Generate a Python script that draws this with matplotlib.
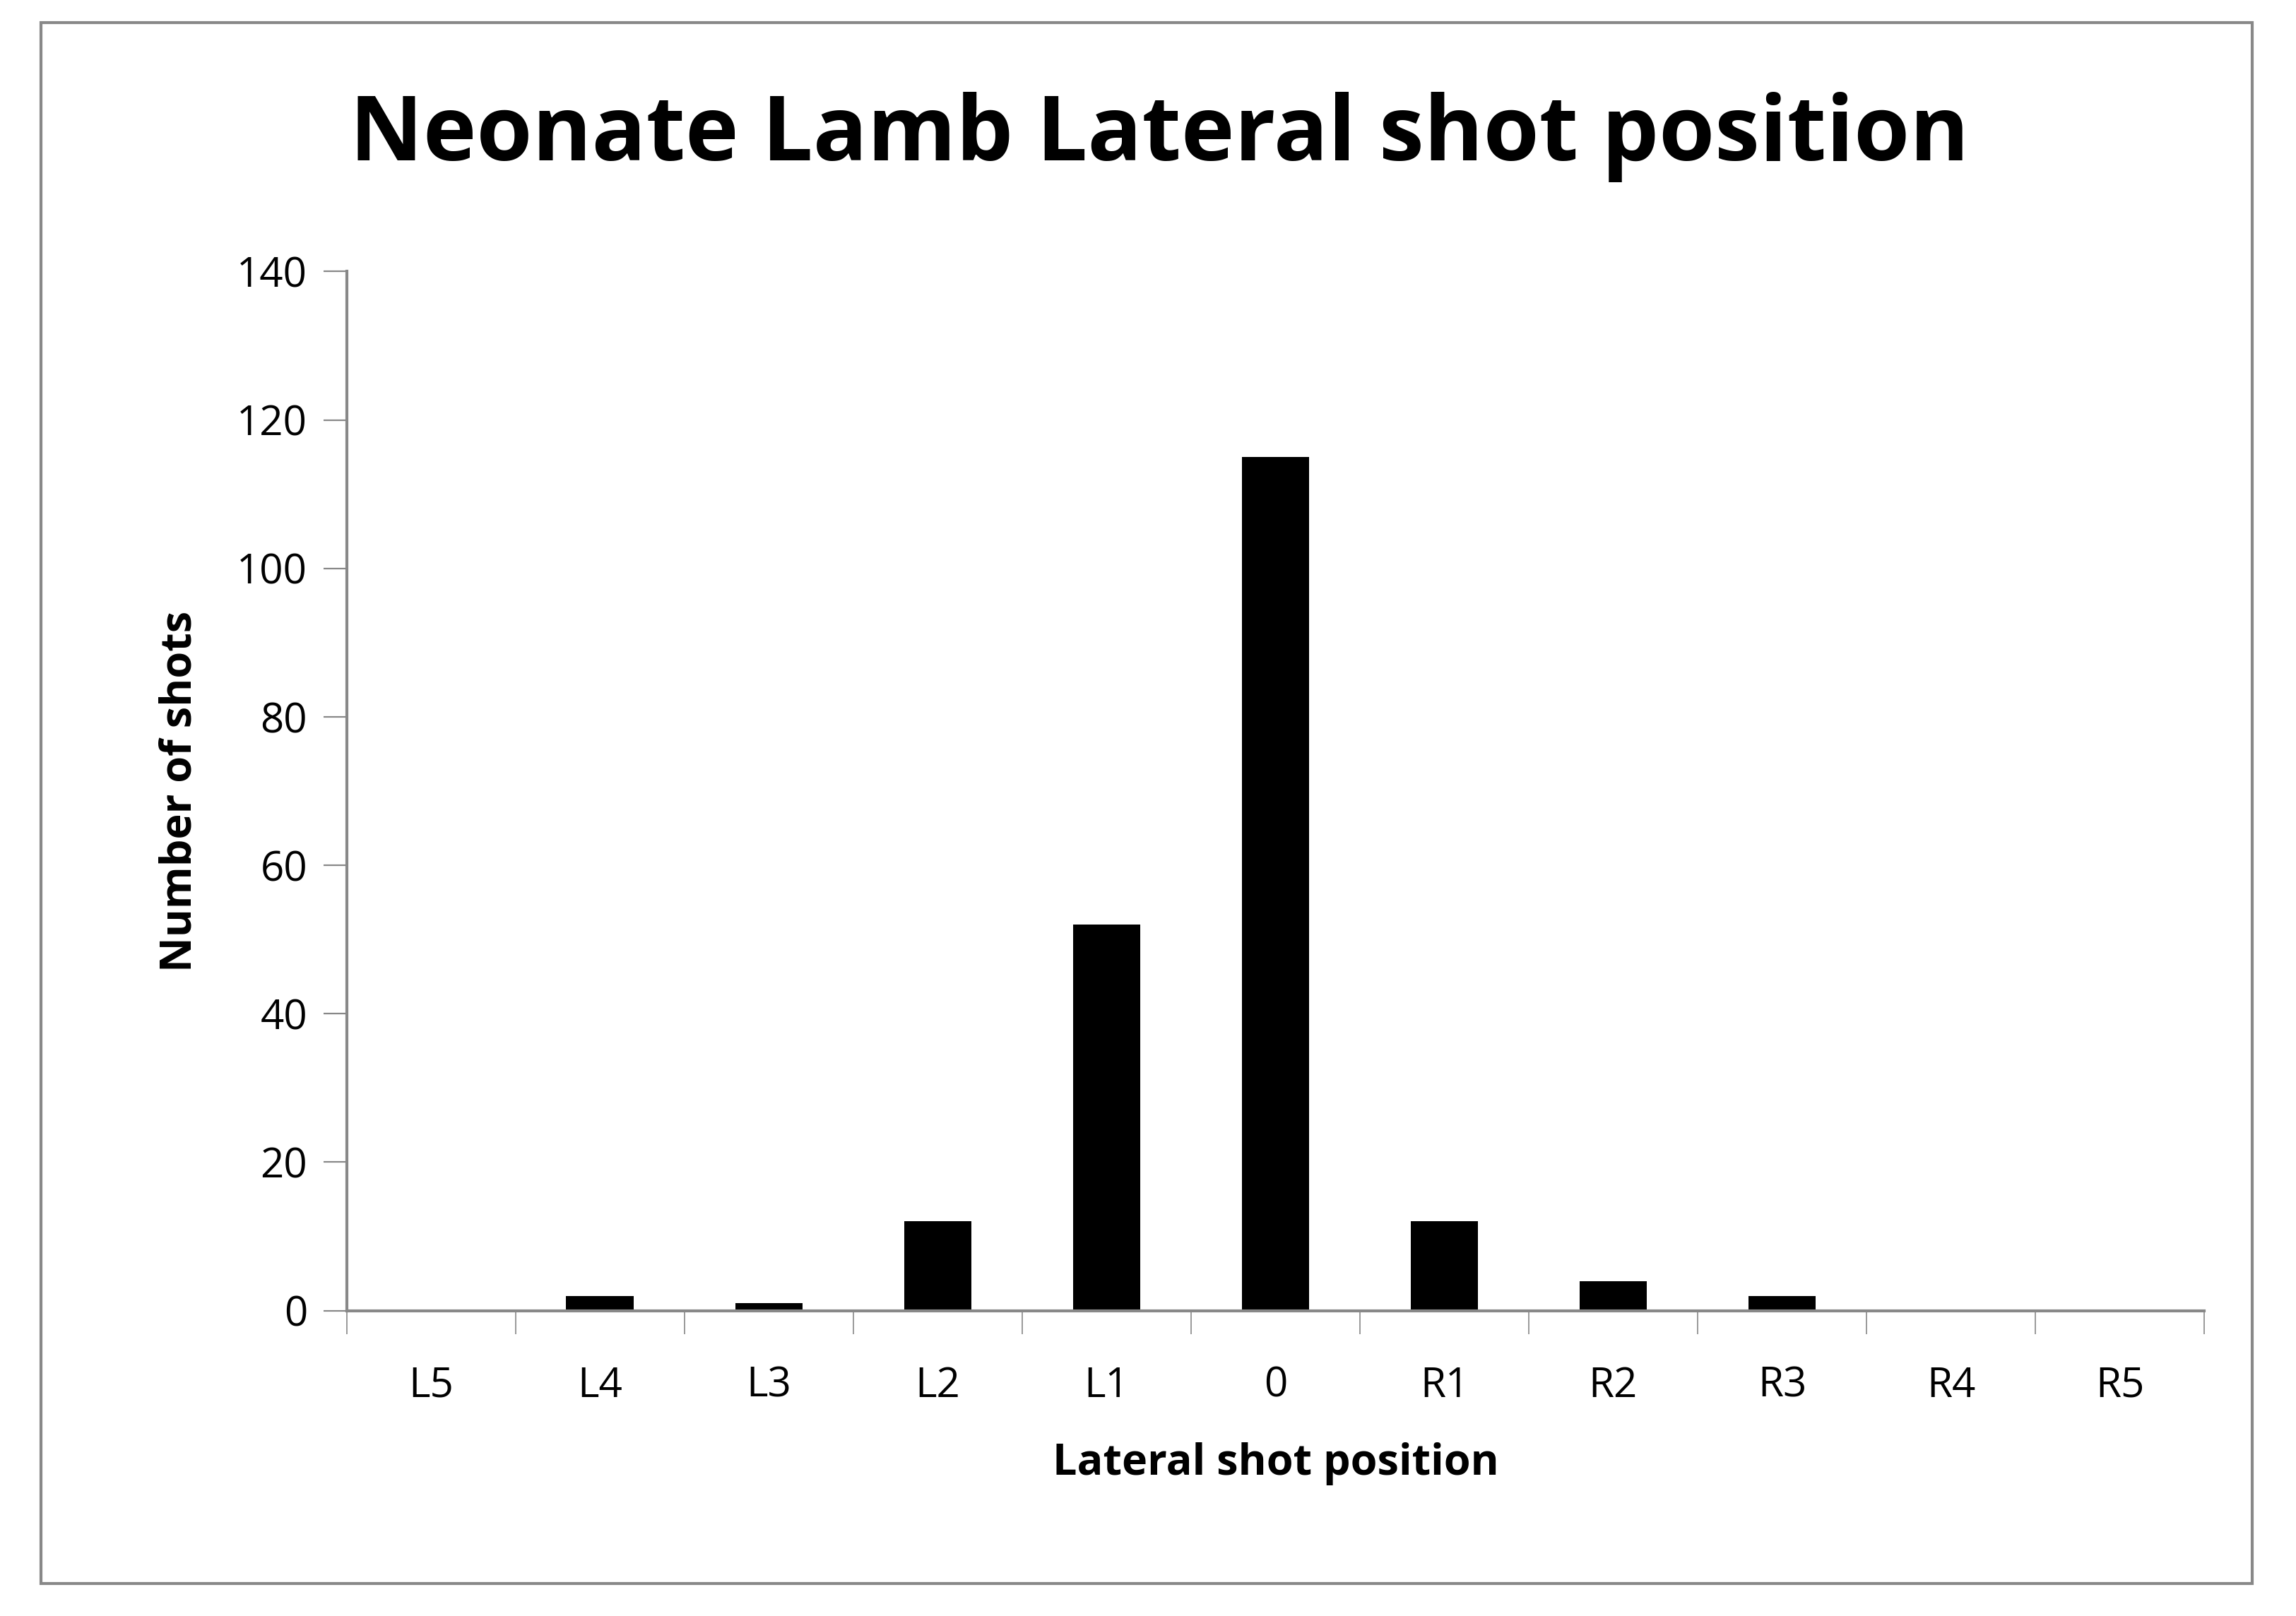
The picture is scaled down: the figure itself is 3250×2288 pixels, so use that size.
import matplotlib
matplotlib.use("Agg")
import matplotlib.pyplot as plt
from matplotlib.patches import Rectangle

categories = ["L5", "L4", "L3", "L2", "L1", "0", "R1", "R2", "R3", "R4", "R5"]
shots = [0, 2, 1, 12, 52, 115, 12, 4, 2, 0, 0]
yticks = [0, 20, 40, 60, 80, 100, 120, 140]

plt.rcParams['font.family'] = ['Open Sans', 'DejaVu Sans']
fig = plt.figure(figsize=(16.25, 11.44), dpi=200)
fig.patches.append(Rectangle((0.018, 0.020), 0.963, 0.966, transform=fig.transFigure,
                             fill=False, edgecolor="#888888", linewidth=1.5))
ax = fig.add_axes([0.151, 0.189, 0.809, 0.643])
x = list(range(len(categories)))
ax.bar(x, shots, width=0.4, color="black")
ax.set_xlim(-0.5, len(categories) - 0.5)
ax.set_ylim(0, 140)
ax.set_yticks(yticks)
ax.set_yticklabels([str(v) for v in yticks], fontsize=21)
ax.set_xticks(x)
ax.set_xticklabels(categories, fontsize=21)
ax.set_xticks([i - 0.5 for i in range(len(categories) + 1)], minor=True)
ax.tick_params(axis='x', which='major', length=0, pad=28)
ax.tick_params(axis='x', which='minor', length=12, color="#888888", direction='out')
ax.tick_params(axis='y', length=12, color="#888888", direction='out', pad=8)
for s in ["top", "right"]:
    ax.spines[s].set_visible(False)
for s in ["left", "bottom"]:
    ax.spines[s].set_color("#888888")
    ax.spines[s].set_linewidth(1.5)
ax.set_xlabel("Lateral shot position", fontsize=22, fontweight="bold", labelpad=18)
ax.set_ylabel("Number of shots", fontsize=22, fontweight="bold", labelpad=18)
fig.text(0.505, 0.915, "Neonate Lamb Lateral shot position", fontsize=46,
         fontweight="bold", ha="center", va="center")
fig.savefig("out.png", dpi=200)
